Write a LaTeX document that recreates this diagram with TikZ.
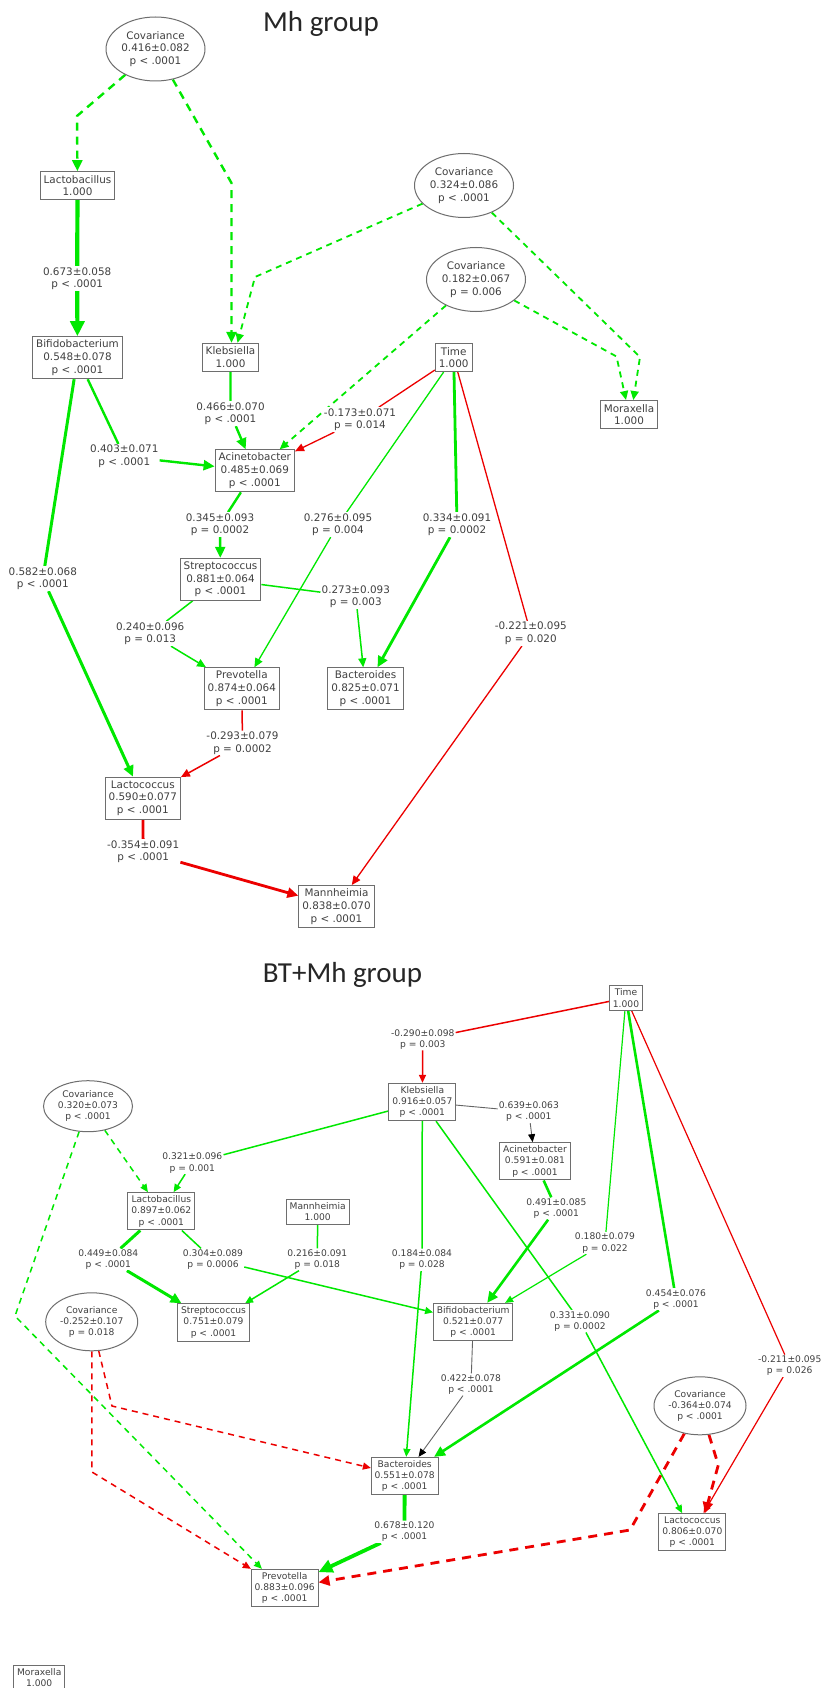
\documentclass[tikz,border=0pt]{standalone}
\usepackage{fontspec}
\setmainfont{DejaVu Sans}
\newfontfamily\titlefont{Carlito}
\usetikzlibrary{arrows.meta,calc,shapes.geometric}
\pgfdeclarelayer{bg}
\pgfsetlayers{bg,main}
\definecolor{grn}{RGB}{0,232,0}
\definecolor{rd}{RGB}{236,0,0}
\definecolor{txt}{RGB}{64,64,64}
\definecolor{bord}{RGB}{110,110,110}
\definecolor{blk}{RGB}{100,100,100}
\tikzset{
  A/.style={font=\fontsize{10.4}{12.7}\selectfont, text=txt, align=center, inner xsep=3.5pt, inner ysep=0pt},
  B/.style={font=\fontsize{9.15}{11.2}\selectfont, text=txt, align=center, inner xsep=3.3pt, inner ysep=0pt},
  box/.style={draw=bord, line width=1pt, fill=white, rectangle},
  Abox2/.style={A, box, minimum height=28pt},
  Abox3/.style={A, box, minimum height=42pt},
  Bbox2/.style={B, box, minimum height=24.6pt},
  Bbox3/.style={B, box, minimum height=37.3pt},
  Acov/.style={A, ellipse, draw=bord, line width=1pt, fill=white, minimum width=99pt, minimum height=64pt, inner sep=0pt},
  Bcov/.style={B, ellipse, draw=bord, line width=1pt, fill=white, minimum width=92pt, minimum height=58pt, inner sep=0pt},
  Alab/.style={A, fill=white, inner sep=1pt},
  Blab/.style={B, fill=white, inner sep=1pt},
  ttl/.style={font=\titlefont\fontsize{29}{34}\selectfont, text=black!85, anchor=base, inner sep=0pt},
  G/.style={draw=grn},
  R/.style={draw=rd},
  K/.style={draw=blk},
  thinA/.style={line width=1.3pt, -{Triangle[length=9pt,width=8pt]}},
  medA/.style={line width=2.4pt, -{Triangle[length=11pt,width=10pt]}},
  thickA/.style={line width=4.2pt, -{Triangle[length=15pt,width=14pt]}},
  bthinA/.style={line width=1.2pt, -{Triangle[length=8pt,width=7pt]}},
  bmedA/.style={line width=2.6pt, -{Triangle[length=11pt,width=10pt]}},
  bthickA/.style={line width=3.8pt, -{Triangle[length=14pt,width=13pt]}},
  kA/.style={line width=0.9pt, -{Triangle[length=8pt,width=7pt,color=black]}},
  dshA/.style={dash pattern=on 8pt off 6pt},
  dshB/.style={dash pattern=on 6pt off 5pt},
  dshC/.style={dash pattern=on 9pt off 7pt},
}
\begin{document}
\begin{tikzpicture}[x=1pt,y=-1pt]
\useasboundingbox (0,0) rectangle (822,1688);
\begin{pgfonlayer}{bg}
\fill[white] (0,0) rectangle (822,1688);
\end{pgfonlayer}

% ---------------- Mh group ----------------
\node[ttl] (t1) at (321,31.5) {Mh group};

\node[Acov] (cov1) at (155.5,49) {Covariance\\0.416±0.082\\p < .0001};
\node[Acov] (cov2) at (464,185.5) {Covariance\\0.324±0.086\\p < .0001};
\node[Acov] (cov3) at (476,279.5) {Covariance\\0.182±0.067\\p = 0.006};
\node[Abox2] (lacto) at (77.5,185.7) {Lactobacillus\\1.000};
\node[Abox3] (bif) at (77.5,357.7) {Bifidobacterium\\0.548±0.078\\p < .0001};
\node[Abox2] (kleb) at (230.5,357.3) {Klebsiella\\1.000};
\node[Abox2] (time) at (453.7,357.5) {Time\\1.000};
\node[Abox2] (mor) at (629,414.5) {Moraxella\\1.000};
\node[Abox3] (acin) at (254.8,470.8) {Acinetobacter\\0.485±0.069\\p < .0001};
\node[Abox3] (strep) at (220.5,579.3) {Streptococcus\\0.881±0.064\\p < .0001};
\node[Abox3] (prev) at (241.8,688.8) {Prevotella\\0.874±0.064\\p < .0001};
\node[Abox3] (bact) at (365.5,688.8) {Bacteroides\\0.825±0.071\\p < .0001};
\node[Abox3] (lactoc) at (142.8,798.2) {Lactococcus\\0.590±0.077\\p < .0001};
\node[Abox3] (mann) at (336.5,906.5) {Mannheimia\\0.838±0.070\\p < .0001};

\node[Alab] (l1) at (77.2,278.7) {0.673±0.058\\p < .0001};
\node[Alab] (l2) at (230.5,413.7) {0.466±0.070\\p < .0001};
\node[Alab] (l3) at (360,419.7) {-0.173±0.071\\p = 0.014};
\node[Alab] (l4) at (124.3,456.5) {0.403±0.071\\p < .0001};
\node[Alab] (l5) at (220,524.7) {0.345±0.093\\p = 0.0002};
\node[Alab] (l6) at (338,524.7) {0.276±0.095\\p = 0.004};
\node[Alab] (l7) at (457,524.7) {0.334±0.091\\p = 0.0002};
\node[Alab] (l8) at (530.8,633.5) {-0.221±0.095\\p = 0.020};
\node[Alab] (l9) at (355.8,596.7) {0.273±0.093\\p = 0.003};
\node[Alab] (l10) at (42.8,578.7) {0.582±0.068\\p < .0001};
\node[Alab] (l11) at (150.2,633.7) {0.240±0.096\\p = 0.013};
\node[Alab] (l12) at (242.5,743) {-0.293±0.079\\p = 0.0002};
\node[Alab] (l13) at (143.2,851.7) {-0.354±0.091\\p < .0001};

\coordinate (b1) at (77,116);
\coordinate (b2) at (231.5,183);
\coordinate (b3) at (255,277);
\coordinate (b4) at (640,357);
\coordinate (b5) at (616.5,356.5);

% ---------------- BT+Mh group ----------------
\node[ttl] (t2) at (342.5,982) {BT+Mh group};

\node[Bbox2] (timeB) at (626,998) {Time\\1.000};
\node[Bbox3] (klebB) at (422.3,1102) {Klebsiella\\0.916±0.057\\p < .0001};
\node[Bbox3] (acinB) at (535,1161.3) {Acinetobacter\\0.591±0.081\\p < .0001};
\node[Bbox3] (bifB) at (473.2,1322) {Bifidobacterium\\0.521±0.077\\p < .0001};
\node[Bbox3] (bactB) at (404.7,1476) {Bacteroides\\0.551±0.078\\p < .0001};
\node[Bbox3] (lactocB) at (692.3,1532.3) {Lactococcus\\0.806±0.070\\p < .0001};
\node[Bbox3] (prevB) at (284.7,1588) {Prevotella\\0.883±0.096\\p < .0001};
\node[Bbox3] (lactoB) at (161.3,1211.3) {Lactobacillus\\0.897±0.062\\p < .0001};
\node[Bbox2] (mannB) at (317.7,1211.7) {Mannheimia\\1.000};
\node[Bbox3] (strepB) at (213.5,1322.5) {Streptococcus\\0.751±0.079\\p < .0001};
\node[Bbox2] (morB) at (39.2,1677.3) {Moraxella\\1.000};
\node[Bcov, minimum width=89pt, minimum height=51pt] (covB1) at (88,1106.2) {Covariance\\0.320±0.073\\p < .0001};
\node[Bcov] (covB2) at (91.7,1321.8) {Covariance\\-0.252±0.107\\p = 0.018};
\node[Bcov] (covB3) at (700,1405.8) {Covariance\\-0.364±0.074\\p < .0001};

\node[Blab] (m1) at (422.8,1039.2) {-0.290±0.098\\p = 0.003};
\node[Blab] (m2) at (528.8,1111.7) {0.639±0.063\\p < .0001};
\node[Blab] (m3) at (556.3,1208.5) {0.491±0.085\\p < .0001};
\node[Blab] (m4) at (605,1243) {0.180±0.079\\p = 0.022};
\node[Blab] (m5) at (676,1299.3) {0.454±0.076\\p < .0001};
\node[Blab] (m6) at (789.7,1365.7) {-0.211±0.095\\p = 0.026};
\node[Blab] (m7) at (580,1321.3) {0.331±0.090\\p = 0.0002};
\node[Blab] (m8) at (422,1259.7) {0.184±0.084\\p = 0.028};
\node[Blab] (m9) at (471,1384.5) {0.422±0.078\\p < .0001};
\node[Blab] (m10) at (404.5,1531.7) {0.678±0.120\\p < .0001};
\node[Blab] (m11) at (192.3,1163) {0.321±0.096\\p = 0.001};
\node[Blab] (m12) at (108.3,1259.5) {0.449±0.084\\p < .0001};
\node[Blab] (m13) at (213,1259.5) {0.304±0.089\\p = 0.0006};
\node[Blab] (m14) at (317.3,1259.5) {0.216±0.091\\p = 0.018};

\coordinate (c1) at (112,1406);
\coordinate (c2) at (92,1472);
\coordinate (c3) at (15,1316);
\coordinate (c4) at (630,1530);
\coordinate (c5) at (718.3,1465);

\begin{pgfonlayer}{bg}
% Mh edges
\draw[G, thickA] (lacto) -- (l1) -- (bif);
\draw[G, medA] (kleb) -- (l2) -- (acin);
\draw[R, thinA] (time) -- (l3) -- (acin);
\draw[G, medA] (bif) -- (l4) -- (acin);
\draw[G, medA] (acin) -- (l5) -- (strep);
\draw[G, thinA] (time) -- (l6) -- (prev);
\draw[G, medA, line width=2.8pt] (time) -- (l7) -- (bact);
\draw[R, thinA] (time) -- (l8) -- (mann);
\draw[G, thinA, line width=1.5pt] (strep) -- (l9) -- (bact);
\draw[G, medA, line width=3pt] (bif) -- (l10) -- (lactoc);
\draw[G, thinA, line width=1.5pt] (strep) -- (l11) -- (prev);
\draw[R, thinA, line width=1.5pt] (prev) -- (l12) -- (lactoc);
\draw[R, medA, line width=2.8pt] (lactoc) -- (l13) -- (mann);
\draw[G, medA, dshA] (cov1) -- (b1) -- (lacto);
\draw[G, medA, dshA] (cov1) -- (b2) -- ($(kleb.north)+(1,0)$);
\draw[G, thinA, line width=1.8pt, dshB] (cov2) -- (b3) -- ($(kleb.north)+(7,0)$);
\draw[G, thinA, line width=1.8pt, dshB] (cov3) -- (acin);
\draw[G, thinA, line width=1.8pt, dshB] (cov2) -- (b4) -- ($(mor.north)+(4.3,0)$);
\draw[G, thinA, line width=1.8pt, dshB] (cov3) -- (b5) -- ($(mor.north)+(-3,0)$);

% BT+Mh edges
\draw[R, bthinA, line width=1.5pt] (timeB) -- (m1) -- (klebB);
\draw[K, kA] (klebB) -- (m2) -- (acinB);
\draw[G, bmedA] (acinB) -- (m3) -- (bifB);
\draw[G, bthinA] (timeB) -- (m4) -- (bifB);
\draw[G, bmedA] (timeB) -- (m5) -- (bactB);
\draw[R, bthinA] (timeB) -- (m6) -- (lactocB);
\draw[G, bthinA, line width=1.5pt] (klebB) -- (m7) -- (lactocB);
\draw[G, bthinA, line width=1.5pt] (klebB) -- (m8) -- (bactB);
\draw[K, kA] (bifB) -- (m9) -- (bactB);
\draw[G, bthickA] (bactB) -- (m10) -- (prevB);
\draw[G, bthinA, line width=1.5pt] (klebB) -- (m11) -- (lactoB);
\draw[G, bmedA, line width=3pt] (lactoB) -- (m12) -- (strepB);
\draw[G, bthinA, line width=1.5pt] (lactoB) -- (m13) -- (bifB);
\draw[G, bthinA, line width=1.5pt] (mannB) -- (m14) -- (strepB);
\draw[G, bthinA, line width=1.5pt, dshB] (covB1) -- (lactoB);
\draw[G, bthinA, line width=1.5pt, dshB] (covB1) -- (c3) -- ($(prevB.north west)+(11,0)$);
\draw[R, bthinA, line width=1.5pt, dshB] (covB2) -- (c1) -- (bactB);
\draw[R, bthinA, line width=1.5pt, dshB] (covB2) -- (c2) -- (prevB.north west);
\draw[R, bmedA, line width=2.8pt, dshC] (covB3) -- (c4) -- (prevB);
\draw[R, bmedA, line width=2.8pt, dshC] (covB3) -- (c5) -- ($(lactocB.north)+(12.7,0)$);
\end{pgfonlayer}
\end{tikzpicture}
\end{document}
